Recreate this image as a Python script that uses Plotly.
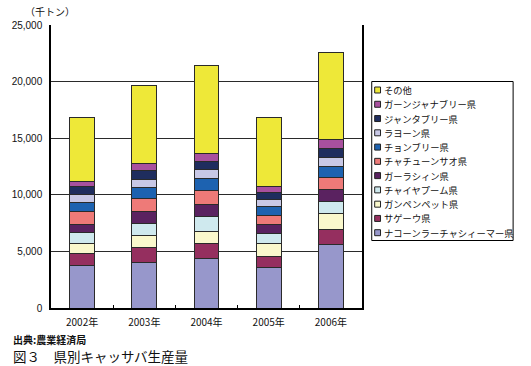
import plotly.graph_objects as go

# ---- data (千トン) ----
years = ["2002年", "2003年", "2004年", "2005年", "2006年"]

series_names = [
    "ナコーンラーチャシィーマー県",
    "サゲーウ県",
    "ガンペンペット県",
    "チャイヤプーム県",
    "ガーラシィン県",
    "チャチューンサオ県",
    "チョンブリー県",
    "ラヨーン県",
    "ジャンタブリー県",
    "ガーンジャナブリー県",
    "その他",
]

nakhon_ratchasima = [3730, 4050, 4400, 3550, 5610]
sa_kaeo           = [1060, 1300, 1300, 1030, 1300]
kamphaeng_phet    = [940, 1060, 1090, 1100, 1420]
chaiyaphum        = [950, 1090, 1300, 880, 1110]
kalasin           = [730, 1000, 1060, 800, 1040]
chachoengsao      = [1090, 1150, 1240, 820, 1030]
chonburi          = [850, 1000, 1060, 770, 1030]
rayong            = [690, 740, 770, 620, 790]
chanthaburi       = [700, 770, 760, 640, 800]
kanchanaburi      = [440, 620, 680, 560, 740]
others            = [5640, 6890, 7720, 6100, 7680]

series_values = [nakhon_ratchasima, sa_kaeo, kamphaeng_phet, chaiyaphum, kalasin,
                 chachoengsao, chonburi, rayong, chanthaburi, kanchanaburi, others]

colors = ["#9797CB", "#952F5F", "#FAF8CC", "#CFE9EE", "#5A2260",
          "#EE7A78", "#1D62B0", "#C8C8E6", "#1F2D5E", "#A8509E", "#EEE838"]

y_ticks = [0, 5000, 10000, 15000, 20000, 25000]

# ---- layout geometry ----
W, H = 531, 366
ML, MR, MT, MB = 43, 169, 25, 58
PW, PH = W - ML - MR, H - MT - MB


def px2x(px):
    return (px - ML) / PW


def py2y(py):
    return (H - MB - py) / PH


FONT = "Noto Sans CJK JP"

fig = go.Figure()
for name, vals, col in zip(series_names, series_values, colors):
    fig.add_trace(go.Bar(
        x=years, y=vals, name=name, width=0.4,
        marker=dict(color=col, line=dict(color="#2a2a2a", width=1)),
        showlegend=False,
    ))

# ---- custom legend (built from series lists) ----
shapes = []
annotations = []
leg_left, leg_right, leg_top, leg_bottom = 372, 517, 81.5, 240.5
shapes.append(dict(type="rect", xref="paper", yref="paper",
                   x0=px2x(leg_left), x1=px2x(leg_right),
                   y0=py2y(leg_bottom), y1=py2y(leg_top),
                   line=dict(color="#000000", width=1), fillcolor="white", layer="above"))
row0, step = 90, 14.27
for i, (name, col) in enumerate(zip(series_names[::-1], colors[::-1])):
    cy = row0 + i * step
    shapes.append(dict(type="rect", xref="paper", yref="paper",
                       x0=px2x(375), x1=px2x(381), y0=py2y(cy + 3), y1=py2y(cy - 3),
                       line=dict(color="#222222", width=1), fillcolor=col, layer="above"))
    annotations.append(dict(text=name, xref="paper", yref="paper",
                            x=px2x(382.5), y=py2y(cy), xanchor="left", yanchor="middle",
                            showarrow=False, font=dict(family=FONT, size=9.3, color="#111")))

# unit label and captions
annotations.append(dict(text="（千トン）", xref="paper", yref="paper",
                        x=px2x(42), y=py2y(12), xanchor="center", yanchor="middle",
                        showarrow=False, font=dict(family=FONT, size=10, color="#111")))
annotations.append(dict(text="<b>出典:農業経済局</b>", xref="paper", yref="paper",
                        x=px2x(2), y=py2y(339.5), xanchor="left", yanchor="middle",
                        showarrow=False, font=dict(family=FONT, size=10, color="#111")))
annotations.append(dict(text="図３　県別キャッサバ生産量", xref="paper", yref="paper",
                        x=px2x(2), y=py2y(356), xanchor="left", yanchor="middle",
                        showarrow=False, font=dict(family=FONT, size=13.5, color="#111")))

fig.update_layout(
    width=W, height=H,
    margin=dict(l=ML, r=MR, t=MT, b=MB, pad=0),
    barmode="stack",
    plot_bgcolor="white", paper_bgcolor="white",
    showlegend=False,
    shapes=shapes, annotations=annotations,
    font=dict(family=FONT, size=10, color="#111"),
)
fig.update_yaxes(
    range=[0, 25000], tickvals=y_ticks, tickformat=",",
    showgrid=True, gridcolor="#2a2a2a", gridwidth=1,
    showline=True, linecolor="#000", linewidth=1.5, mirror=True,
    ticks="", ticklabelstandoff=5, zeroline=False,
    tickfont=dict(family="Liberation Sans", size=10, color="#111"),
)
fig.update_xaxes(
    showline=True, linecolor="#000", linewidth=1.5,
    ticks="inside", tickson="boundaries", ticklen=3, tickcolor="#000",
    showgrid=False, ticklabelstandoff=4,
    tickfont=dict(family=FONT, size=10, color="#111"),
)

fig.write_html("out.html", config={"displayModeBar": False},
               post_script="document.body.style.margin='0';document.body.style.overflow='hidden';")
